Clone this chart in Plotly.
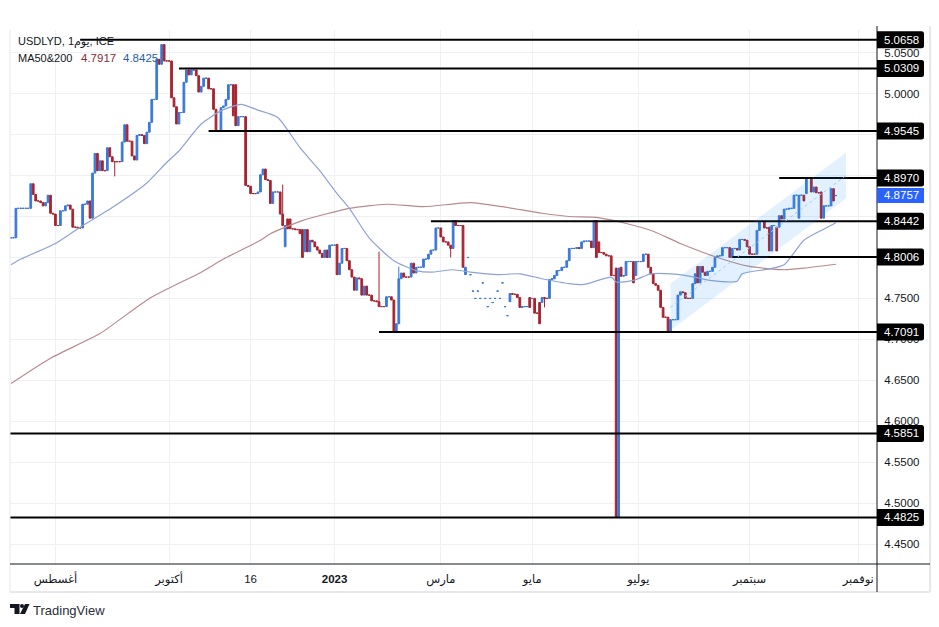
import plotly.graph_objects as go

closes = [
4.824,4.824,4.860,4.860,4.860,4.860,4.860,4.860,4.890,4.877,
4.869,4.869,4.867,4.863,4.867,4.876,4.854,4.853,4.839,4.839,
4.857,4.857,4.863,4.864,4.859,4.837,4.837,4.836,4.836,4.865,
4.865,4.869,4.848,4.903,4.927,4.906,4.918,4.906,4.906,4.934,
4.923,4.917,4.917,4.917,4.917,4.941,4.962,4.942,4.942,4.924,
4.919,4.949,4.950,4.949,4.939,4.953,4.965,4.993,4.993,5.042,
5.036,5.060,5.040,5.040,5.040,4.995,4.984,4.963,4.977,4.977,
5.014,5.029,5.023,5.029,5.029,5.022,5.002,5.009,5.019,5.019,
5.006,5.006,4.981,4.954,4.954,4.983,4.985,4.993,5.011,5.011,
4.973,4.961,4.972,4.972,4.972,4.888,4.887,4.878,4.878,4.878,
4.880,4.901,4.908,4.895,4.894,4.866,4.880,4.880,4.880,4.853,
4.839,4.839,4.835,4.835,4.835,4.834,4.834,4.829,4.800,4.834,
4.807,4.821,4.819,4.813,4.809,4.805,4.800,4.809,4.800,4.815,
4.815,4.815,4.779,4.793,4.811,4.811,4.796,4.785,4.776,4.760,
4.775,4.774,4.754,4.765,4.754,4.754,4.747,4.747,4.746,4.740,
4.740,4.740,4.752,4.752,4.748,4.709,4.719,4.774,4.781,4.776,
4.776,4.776,4.793,4.781,4.788,4.788,4.788,4.798,4.798,4.804,
4.809,4.809,4.836,4.836,4.825,4.819,4.819,4.815,4.811,4.845,
4.839,4.839,4.839,4.788,4.788,4.800,4.779,4.759,4.750,4.759,
4.750,4.769,4.750,4.740,4.750,4.745,4.750,4.759,4.750,4.769,
4.740,4.729,4.756,4.755,4.755,4.751,4.739,4.740,4.740,4.740,
4.739,4.750,4.732,4.732,4.719,4.751,4.750,4.750,4.773,4.774,
4.778,4.784,4.784,4.788,4.788,4.796,4.811,4.811,4.811,4.812,
4.811,4.819,4.820,4.820,4.820,4.812,4.845,4.800,4.806,4.806,
4.804,4.802,4.802,4.778,4.778,4.4825,4.787,4.777,4.778,4.795,
4.795,4.795,4.769,4.795,4.795,4.795,4.804,4.804,4.788,4.780,
4.768,4.766,4.760,4.739,4.727,4.727,4.709,4.724,4.724,4.724,
4.754,4.758,4.757,4.750,4.750,4.750,4.768,4.780,4.769,4.789,
4.782,4.778,4.783,4.783,4.788,4.800,4.802,4.802,4.812,4.812,
4.812,4.800,4.811,4.811,4.809,4.822,4.822,4.821,4.813,4.804,
4.804,4.804,4.833,4.844,4.844,4.836,4.836,4.808,4.839,4.839,
4.808,4.851,4.847,4.859,4.859,4.860,4.860,4.876,4.876,4.876,
4.876,4.869,4.897,4.897,4.880,4.886,4.879,4.879,4.848,4.863,
4.863,4.863,4.884,4.869,4.8757,
]
open_bars = [91,111,112,113,118,119,120,132,184,202,210,214,215,236,237,238,245,246,247,252,253,278,307,310,311,319,322,324,328,333]
open_vals = [5.011,4.813,4.847,4.847,4.834,4.807,4.834,4.816,4.779,4.746,4.751,4.745,4.745,4.812,4.845,4.819,4.787,4.4825,4.788,4.795,4.778,4.789,4.837,4.837,4.837,4.848,4.878,4.897,4.880,4.884]
single_print_bars = [185,186,187,188,189,190,191,192,193,194,195,196,197,198,199,200,201,211,334]
high_bars = [110,149,157]
high_vals = [4.889,4.807,4.789]
low_bars = [42,178,216]
low_vals = [4.899,4.800,4.739]

ma50_bars = [0,4,18,28,41,55,63,68,77,85,93,100,108,117,125,132,137,145,155,164,170,179,186,197,206,215,226,232,243,245,252,259,267,275,283,294,296,307,313,321,328,334]
ma50_vals = [4.791,4.798,4.817,4.837,4.861,4.891,4.916,4.930,4.963,4.979,4.987,4.980,4.971,4.934,4.906,4.878,4.860,4.824,4.796,4.784,4.782,4.785,4.782,4.779,4.780,4.774,4.768,4.767,4.776,4.770,4.772,4.780,4.780,4.777,4.772,4.771,4.780,4.786,4.791,4.821,4.833,4.8425]
ma200_bars = [0,16,36,56,77,86,101,105,118,137,152,167,186,199,215,226,237,247,260,271,286,299,313,321,334]
ma200_vals = [4.646,4.677,4.707,4.750,4.782,4.798,4.821,4.829,4.845,4.860,4.865,4.862,4.867,4.862,4.854,4.850,4.849,4.843,4.832,4.817,4.800,4.789,4.785,4.787,4.7917]

level_vals = [5.0658,5.0309,4.9545,4.8970,4.8442,4.8006,4.7091,4.5851,4.4825]
level_start = [28,68,80,311,170,292,149,-0.4,-0.4]
level_text = ["5.0658","5.0309","4.9545","4.8970","4.8442","4.8006","4.7091","4.5851","4.4825"]

channel_bars = [267,338,338,267,267]
channel_vals = [4.768,4.928,4.872,4.711,4.768]
channel_mid_bars = [267,338]
channel_mid_vals = [4.739,4.900]

x_tick_bars = [18,64,97,131,174,211,254,299,343]
x_tick_text = ["أغسطس","أكتوبر","16","<b>2023</b>","مارس","مايو","يوليو","سبتمبر","نوفمبر"]
y_tick_vals = [4.45,4.50,4.55,4.60,4.65,4.70,4.75,4.80,4.85,4.90,4.95,5.00,5.05]
y_tick_text = ["4.4500","4.5000","4.5500","4.6000","4.6500","4.7000","4.7500","","4.8500","","","5.0000","5.0500"]

last_price = 4.8757
last_text = "4.8757"
title_text = "USDLYD, 1يوم, ICE"
ma_name = "MA50&200"
ma200_text = "4.7917"
ma50_text = "4.8425"

W, H = 939, 627
L, R, T, B = 10, 877, 30, 564
FONT = "Liberation Sans, DejaVu Sans, sans-serif"
INK = "#131722"
X_RANGE = [-0.4, 350.6]
Y_RANGE = [4.4256, 5.0778]

def fx(px):
    return (px - L) / (R - L)
def fy(py):
    return (B - py) / (B - T)

bars = list(range(len(closes)))
opens = [closes[0]] + closes[:-1]
for i, v in zip(open_bars, open_vals):
    opens[i] = v
for i in single_print_bars:
    opens[i] = closes[i] - 0.0002
highs = [max(o, c) for o, c in zip(opens, closes)]
lows = [min(o, c) for o, c in zip(opens, closes)]
for i, v in zip(high_bars, high_vals):
    highs[i] = v
for i, v in zip(low_bars, low_vals):
    lows[i] = v

fig = go.Figure()
fig.add_trace(go.Candlestick(
    x=bars, open=opens, high=highs, low=lows, close=closes,
    increasing=dict(line=dict(color="#3a78d8", width=1), fillcolor="#3a78d8"),
    decreasing=dict(line=dict(color="#a8232f", width=1), fillcolor="#a8232f"),
    whiskerwidth=0, showlegend=False))
fig.add_trace(go.Scatter(x=ma200_bars, y=ma200_vals, mode="lines", line=dict(color="#b98a8e", width=1.2, shape="spline", smoothing=0.6), showlegend=False))
fig.add_trace(go.Scatter(x=ma50_bars, y=ma50_vals, mode="lines", line=dict(color="#8ea2d8", width=1.2, shape="spline", smoothing=0.6), showlegend=False))
for start, val in zip(level_start, level_vals):
    fig.add_trace(go.Scatter(x=[start, X_RANGE[1]], y=[val, val], mode="lines", line=dict(color="#000000", width=2), showlegend=False))
fig.add_trace(go.Scatter(x=channel_bars, y=channel_vals, mode="lines", fill="toself", fillcolor="rgba(33,150,243,0.13)", line=dict(width=0), showlegend=False))
fig.add_trace(go.Scatter(x=channel_mid_bars, y=channel_mid_vals, mode="lines", line=dict(color="#a9c8f0", width=1, dash="dot"), showlegend=False))

shapes = []
annos = []

def rounded(x0, y0, x1, y1, r, color):
    d = (f"M{fx(x0)},{fy(y0)} L{fx(x1-r)},{fy(y0)} Q{fx(x1)},{fy(y0)} {fx(x1)},{fy(y0+r)} "
         f"L{fx(x1)},{fy(y1-r)} Q{fx(x1)},{fy(y1)} {fx(x1-r)},{fy(y1)} L{fx(x0)},{fy(y1)} Z")
    shapes.append(dict(type="path", xref="paper", yref="paper", path=d, fillcolor=color, line=dict(width=0), layer="above"))

def price_y(p):
    return T + (Y_RANGE[1] - p) / (Y_RANGE[1] - Y_RANGE[0]) * (B - T)

# frame
frame = "#e6e8ee"
shapes.append(dict(type="line", xref="paper", yref="paper", x0=fx(L), x1=fx(L), y0=fy(T), y1=fy(592), line=dict(color=frame, width=1)))
shapes.append(dict(type="line", xref="paper", yref="paper", x0=fx(930), x1=fx(930), y0=fy(26), y1=fy(592), line=dict(color=frame, width=2)))
shapes.append(dict(type="line", xref="paper", yref="paper", x0=fx(L), x1=fx(930), y0=fy(592), y1=fy(592), line=dict(color=frame, width=2)))
shapes.append(dict(type="line", xref="paper", yref="paper", x0=fx(R), x1=fx(R), y0=fy(26), y1=fy(592), line=dict(color=INK, width=1), layer="above"))
shapes.append(dict(type="line", xref="paper", yref="paper", x0=fx(L), x1=fx(930), y0=fy(B), y1=fy(B), line=dict(color=INK, width=1), layer="above"))

# price boxes
for val, txt in zip(level_vals, level_text):
    cy = price_y(val)
    rounded(R, cy - 8.5, 924, cy + 8.5, 2.5, "#000000")
cy = price_y(last_price)
shapes.append(dict(type="rect", xref="paper", yref="paper", x0=fx(R), x1=fx(924), y0=fy(cy - 7.5), y1=fy(cy + 7.5), fillcolor="#2962ff", line=dict(width=0), layer="above"))
for val, txt in zip(level_vals, level_text):
    annos.append(dict(xref="paper", yref="paper", x=fx(902), y=fy(price_y(val)), text=txt, showarrow=False, xanchor="center", yanchor="middle", font=dict(family=FONT, size=11.5, color="#ffffff")))
annos.append(dict(xref="paper", yref="paper", x=fx(902), y=fy(cy), text=last_text, showarrow=False, xanchor="center", yanchor="middle", font=dict(family=FONT, size=11.5, color="#ffffff")))

# header
def label(px, py, text, size, color):
    annos.append(dict(xref="paper", yref="paper", x=fx(px), y=fy(py), text=text, showarrow=False, xanchor="left", yanchor="middle", xshift=0, font=dict(family=FONT, size=size, color=color), borderpad=0))
label(17, 41, title_text, 11, INK)
label(17, 58, ma_name, 11, INK)
label(80, 58, ma200_text, 11.5, "#8b2a33")
label(122, 58, ma50_text, 11.5, "#2a5caa")
label(32, 610, "TradingView", 13, "#2a2e39")

# logo
logo = "#131722"
def poly(points):
    d = "M" + " L".join(f"{fx(a)},{fy(b)}" for a, b in points) + " Z"
    shapes.append(dict(type="path", xref="paper", yref="paper", path=d, fillcolor=logo, line=dict(width=0), layer="above"))
poly([(10, 604), (19.5, 604), (19.5, 614), (14.5, 614), (14.5, 608), (10, 608)])
poly([(25, 604), (29.5, 604), (25, 614), (20, 614)])
shapes.append(dict(type="circle", xref="paper", yref="paper", x0=fx(20), x1=fx(24), y0=fy(608), y1=fy(604), fillcolor=logo, line=dict(width=0), layer="above"))

fig.update_layout(
    width=W, height=H, autosize=False,
    margin=dict(l=L, r=W - R, t=T, b=H - B, pad=0),
    paper_bgcolor="#ffffff", plot_bgcolor="#ffffff",
    showlegend=False, shapes=shapes, annotations=annos, boxgap=0,
    hovermode=False,
    xaxis=dict(range=X_RANGE, rangeslider=dict(visible=False), tickmode="array", tickvals=x_tick_bars, ticktext=x_tick_text,
               tickfont=dict(family=FONT, size=11.5, color=INK), showgrid=True, gridcolor="#eef0f5", gridwidth=1, zeroline=False,
               ticks="outside", ticklen=4, tickcolor="rgba(0,0,0,0)", showline=False),
    yaxis=dict(range=Y_RANGE, side="right", tickmode="array", tickvals=y_tick_vals, ticktext=y_tick_text,
               tickfont=dict(family=FONT, size=11.5, color=INK), showgrid=True, gridcolor="#eef0f5", gridwidth=1, zeroline=False,
               ticks="outside", ticklen=4, tickcolor="rgba(0,0,0,0)", showline=False),
)
fig.write_html("out.html", config=dict(displayModeBar=False), post_script="document.body.style.margin='0';")
